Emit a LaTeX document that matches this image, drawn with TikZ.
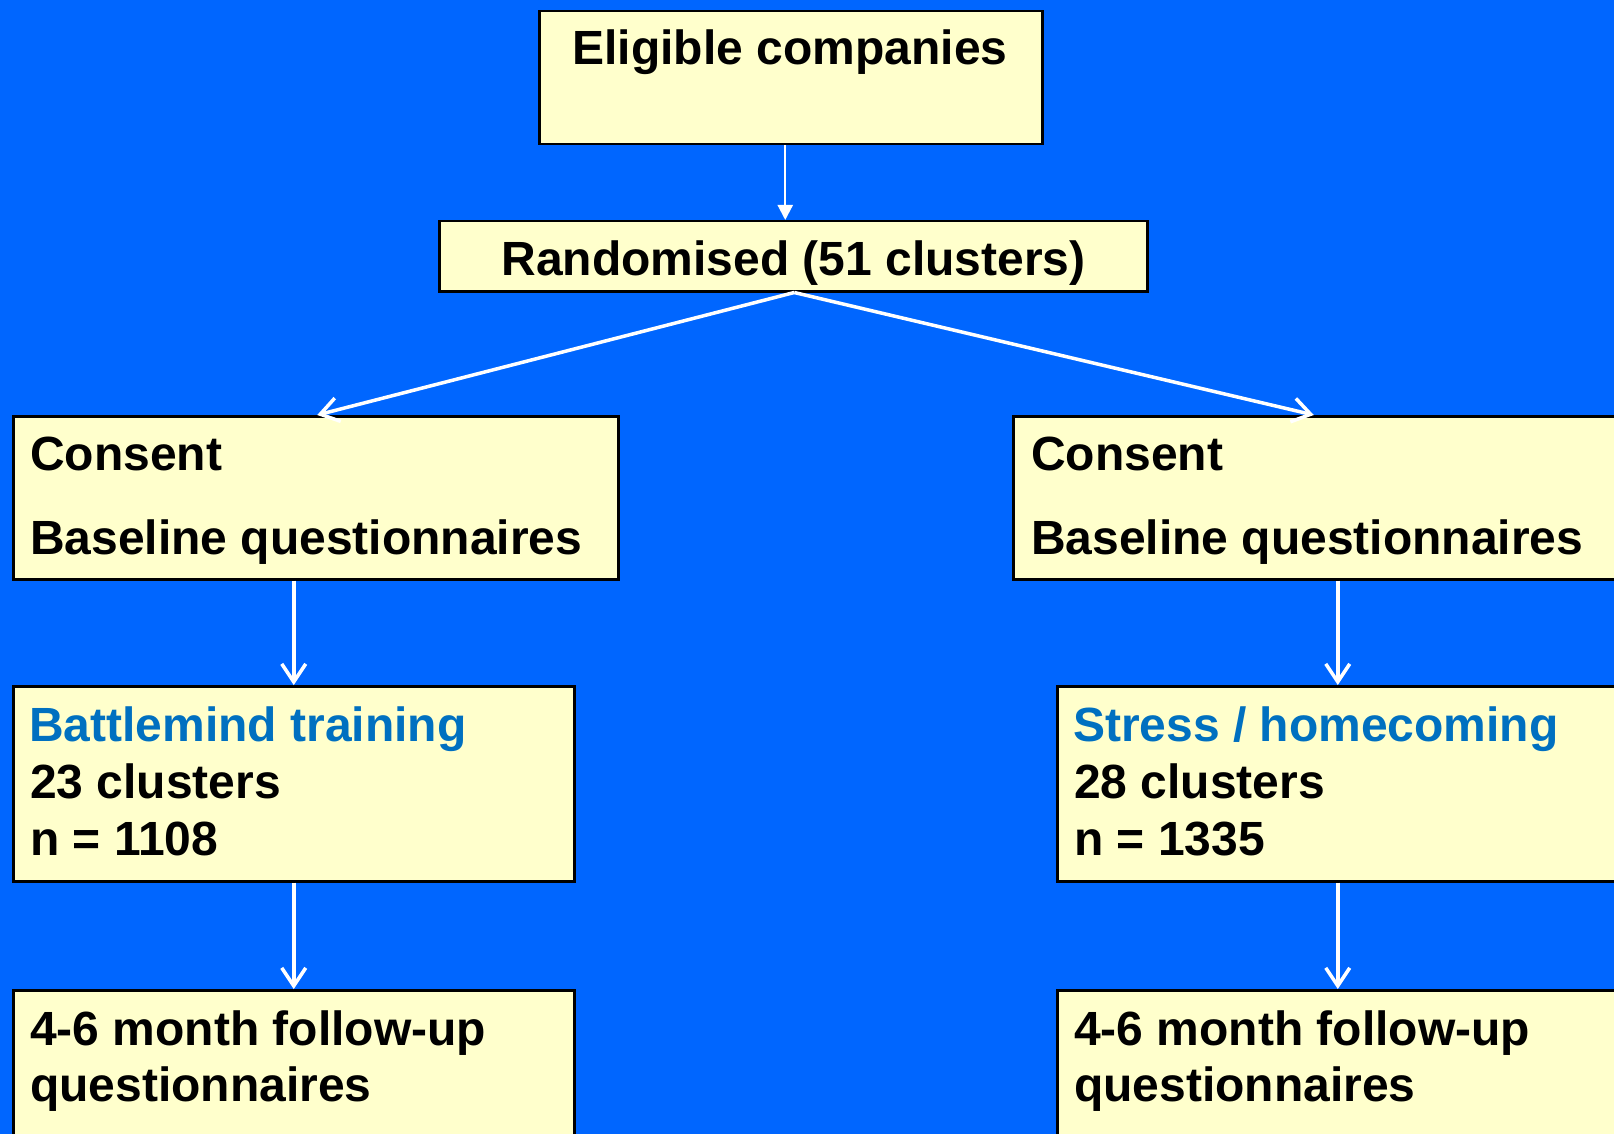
\documentclass[tikz,border=0pt]{standalone}
\usepackage{fontspec}
\setmainfont{Liberation Sans}
\usetikzlibrary{arrows.meta}
\definecolor{bgblue}{HTML}{0066FF}
\definecolor{boxfill}{HTML}{FFFFCC}
\definecolor{titleblue}{HTML}{0070C0}
\begin{document}
\begin{tikzpicture}[x=1pt,y=-1pt,
  box/.style={draw=black,line width=2.5pt,fill=boxfill,rectangle,inner sep=0pt,anchor=north west},
  txt/.style={inner sep=0pt,font=\fontsize{48}{57}\selectfont\bfseries,anchor=base west},
  conn/.style={draw=white,line width=3.5pt,-{Straight Barb[length=18pt,width=24pt]}},
  firstconn/.style={draw=white,line width=2.2pt,-{Triangle[length=15pt,width=15pt]}}]
\useasboundingbox (0,0) rectangle (1614,1134);
\clip (0,0) rectangle (1614,1134);
\fill[bgblue] (0,0) rectangle (1614,1134);
% boxes
\node[box,minimum width=503pt,minimum height=133pt] (elig) at (538,10) {};
\node[box,minimum width=708pt,minimum height=70pt] (rand) at (438,220) {};
\node[box,minimum width=605pt,minimum height=163pt] (consL) at (12,415) {};
\node[box,minimum width=605pt,minimum height=163pt] (consR) at (1012,415) {};
\node[box,minimum width=561pt,minimum height=195pt] (battle) at (12,685) {};
\node[box,minimum width=561pt,minimum height=195pt] (stress) at (1056,685) {};
\node[box,minimum width=561pt,minimum height=195pt] (fuL) at (12,989) {};
\node[box,minimum width=561pt,minimum height=195pt] (fuR) at (1056,989) {};
% connectors
\draw[firstconn] ([xshift=-5.5pt]elig.south) -- ([xshift=-8pt]rand.north);
\draw[conn] ([xshift=1pt]rand.south) -- ([xshift=1.5pt]consL.north);
\draw[conn] ([xshift=1pt]rand.south) -- ([xshift=-2pt]consR.north);
\draw[conn] (consL.south -| battle.north) -- (battle.north);
\draw[conn] (consR.south -| stress.north) -- (stress.north);
\draw[conn] (battle.south) -- (fuL.north);
\draw[conn] (stress.south) -- (fuR.north);
% texts
\node[txt,anchor=base] (t1) at (790,65) {Eligible companies};
\node[txt,anchor=base] (t2) at (793.5,275) {Randomised (51 clusters)};
\node[txt] (t3) at (30,470) {Consent};
\node[txt] (t4) at (30,554) {Baseline questionnaires};
\node[txt] (t5) at (1031,470) {Consent};
\node[txt] (t6) at (1031,554) {Baseline questionnaires};
\node[txt,text=titleblue] (t7) at (29,741) {Battlemind training};
\node[txt] (t8) at (30,798) {23 clusters};
\node[txt] (t9) at (30,855) {n = 1108};
\node[txt,text=titleblue] (t10) at (1073,741) {Stress / homecoming};
\node[txt] (t11) at (1074,798) {28 clusters};
\node[txt] (t12) at (1074,855) {n = 1335};
\node[txt] (t13) at (30,1045) {4-6 month follow-up};
\node[txt] (t14) at (30,1101) {questionnaires};
\node[txt] (t15) at (1074,1045) {4-6 month follow-up};
\node[txt] (t16) at (1074,1101) {questionnaires};
\end{tikzpicture}
\end{document}
